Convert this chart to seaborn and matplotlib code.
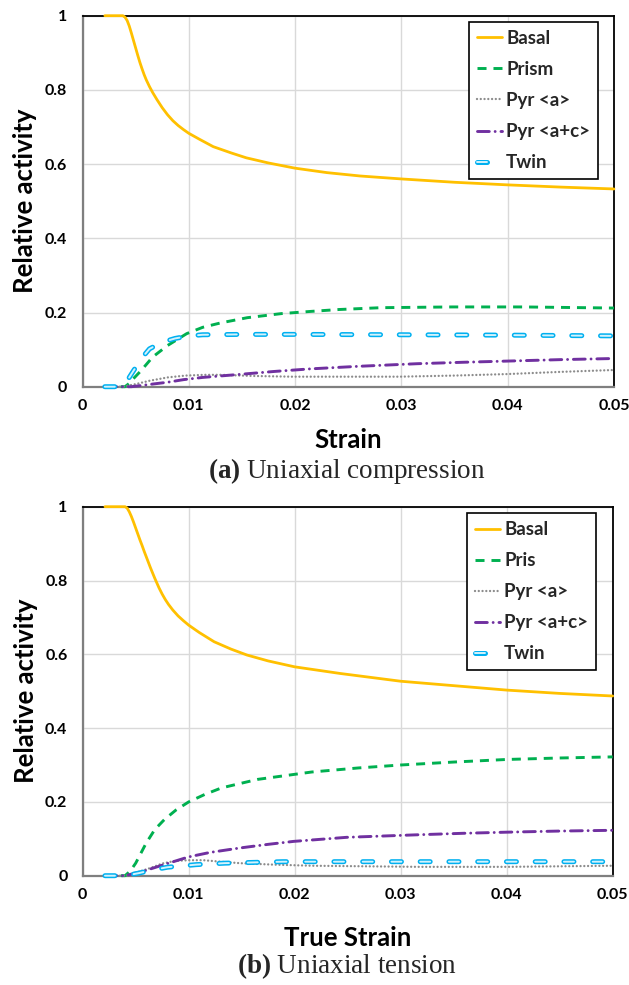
import numpy as np
import pandas as pd
import matplotlib
matplotlib.use("Agg")
import matplotlib.pyplot as plt
import matplotlib.patheffects as pe
import seaborn as sns

# ---------------- data ----------------
series_names_a = ["Basal", "Prism", "Pyr <a>", "Pyr <a+c>", "Twin"]
series_names_b = ["Basal", "Pris", "Pyr <a>", "Pyr <a+c>", "Twin"]

# (a) Uniaxial compression
a_basal_x = [0.0021, 0.0030, 0.0038, 0.0040, 0.0042, 0.0044, 0.0046, 0.0048, 0.0050, 0.0052,
             0.0054, 0.0056, 0.0058, 0.0060, 0.0063, 0.0066, 0.0070, 0.0075, 0.0080, 0.0085,
             0.0090, 0.0095, 0.0100, 0.0110, 0.0123, 0.0140, 0.0154, 0.0175, 0.0200, 0.0230,
             0.0261, 0.0300, 0.0350, 0.0400, 0.0450, 0.0500]
a_basal_y = [1.0, 1.0, 1.0, 0.996, 0.987, 0.972, 0.953, 0.933, 0.913, 0.893,
             0.874, 0.857, 0.841, 0.827, 0.809, 0.793, 0.774, 0.752, 0.733, 0.717,
             0.704, 0.693, 0.683, 0.667, 0.647, 0.630, 0.617, 0.603, 0.589, 0.577,
             0.568, 0.560, 0.551, 0.544, 0.538, 0.533]

a_prism_x = [0.0021, 0.0040, 0.0044, 0.0048, 0.0055, 0.0066, 0.0080, 0.0098, 0.0113, 0.0130,
             0.0155, 0.0187, 0.0215, 0.0241, 0.0281, 0.0348, 0.0415, 0.0500]
a_prism_y = [0.0, 0.0, 0.009, 0.022, 0.043, 0.080, 0.111, 0.143, 0.160, 0.172,
             0.186, 0.197, 0.203, 0.208, 0.213, 0.215, 0.215, 0.212]

a_pyra_x = [0.0021, 0.0038, 0.0050, 0.0063, 0.0080, 0.0097, 0.0115, 0.0130, 0.0160, 0.0197,
            0.0250, 0.0298, 0.0350, 0.0399, 0.0450, 0.0500]
a_pyra_y = [0.0, 0.0, 0.007, 0.016, 0.025, 0.030, 0.032, 0.032, 0.029, 0.027,
            0.027, 0.027, 0.030, 0.034, 0.040, 0.045]

a_pyrac_x = [0.0021, 0.0046, 0.0060, 0.0080, 0.0095, 0.0113, 0.0147, 0.0180, 0.0214, 0.0260,
             0.0315, 0.0360, 0.0399, 0.0450, 0.0500]
a_pyrac_y = [0.0, 0.0, 0.005, 0.012, 0.019, 0.025, 0.033, 0.041, 0.048, 0.055,
             0.062, 0.066, 0.069, 0.073, 0.076]

a_twin_x = [0.0021, 0.0037, 0.0042, 0.0048, 0.0056, 0.0063, 0.0075, 0.0087, 0.0100, 0.0113,
            0.0150, 0.0200, 0.0300, 0.0400, 0.0500]
a_twin_y = [0.0, 0.0, 0.016, 0.043, 0.078, 0.102, 0.120, 0.130, 0.137, 0.140,
            0.141, 0.141, 0.140, 0.139, 0.137]

# (b) Uniaxial tension
b_basal_x = [0.0021, 0.0030, 0.0040, 0.0042, 0.0044, 0.0046, 0.0048, 0.0050, 0.0052, 0.0054,
             0.0056, 0.0058, 0.0060, 0.0062, 0.0064, 0.0066, 0.0068, 0.0070, 0.0072, 0.0075,
             0.0078, 0.0081, 0.0085, 0.0090, 0.0095, 0.0100, 0.0110, 0.0124, 0.0140, 0.0155,
             0.0175, 0.0200, 0.0243, 0.0300, 0.0350, 0.0400, 0.0450, 0.0500]
b_basal_y = [1.0, 1.0, 1.0, 0.996, 0.986, 0.973, 0.958, 0.942, 0.926, 0.910,
             0.895, 0.879, 0.864, 0.849, 0.834, 0.820, 0.806, 0.793, 0.780, 0.763,
             0.748, 0.735, 0.720, 0.704, 0.691, 0.679, 0.659, 0.634, 0.614, 0.598,
             0.582, 0.566, 0.548, 0.527, 0.515, 0.503, 0.494, 0.487]

b_prism_x = [0.0021, 0.0040, 0.0045, 0.0050, 0.0060, 0.0068, 0.0077, 0.0088, 0.0100, 0.0115,
             0.0131, 0.0165, 0.0216, 0.0260, 0.0300, 0.0350, 0.0400, 0.0450, 0.0500]
b_prism_y = [0.0, 0.0, 0.013, 0.034, 0.089, 0.125, 0.152, 0.178, 0.200, 0.220,
             0.238, 0.261, 0.281, 0.292, 0.300, 0.308, 0.315, 0.319, 0.322]

b_pyra_x = [0.0021, 0.0040, 0.0050, 0.0064, 0.0075, 0.0087, 0.0100, 0.0114, 0.0130, 0.0148,
            0.0180, 0.0216, 0.0317, 0.0401, 0.0500]
b_pyra_y = [0.0, 0.0, 0.008, 0.021, 0.033, 0.040, 0.042, 0.042, 0.038, 0.034,
            0.030, 0.027, 0.024, 0.024, 0.027]

b_pyrac_x = [0.0021, 0.0040, 0.0057, 0.0080, 0.0100, 0.0120, 0.0148, 0.0175, 0.0199, 0.0249,
             0.0317, 0.0360, 0.0401, 0.0450, 0.0500]
b_pyrac_y = [0.0, 0.0, 0.012, 0.033, 0.051, 0.063, 0.075, 0.085, 0.093, 0.104,
             0.111, 0.115, 0.118, 0.121, 0.123]

b_twin_x = [0.0021, 0.0040, 0.0053, 0.0065, 0.0080, 0.0107, 0.0134, 0.0161, 0.0189, 0.0250,
            0.0300, 0.0400, 0.0500]
b_twin_y = [0.0, 0.0, 0.007, 0.015, 0.023, 0.030, 0.034, 0.036, 0.038, 0.038,
            0.038, 0.038, 0.038]

x_ticks = [0, 0.01, 0.02, 0.03, 0.04, 0.05]
x_tick_labels = ["0", "0.01", "0.02", "0.03", "0.04", "0.05"]
y_ticks = [0, 0.2, 0.4, 0.6, 0.8, 1.0]
y_tick_labels = ["0", "0.2", "0.4", "0.6", "0.8", "1"]

x_label_a = "Strain"
x_label_b = "True Strain"
y_label = "Relative activity"
caption_a = r"$\mathbf{(a)}$ Uniaxial compression"
caption_b = r"$\mathbf{(b)}$ Uniaxial tension"

# ---------------- style ----------------
sns.set_theme(style="whitegrid")
plt.rcParams.update({
    "font.family": ["Lato", "DejaVu Sans"],
    "font.weight": "bold",
    "lines.scale_dashes": False,
    "mathtext.fontset": "custom",
    "mathtext.rm": "Liberation Serif",
    "mathtext.bf": "Liberation Serif:bold",
    "figure.facecolor": "white",
    "axes.facecolor": "white",
})

line_styles = [
    dict(color="#FFC000", lw=2.0, ls="-"),
    dict(color="#00B050", lw=2.1, ls=(0, (6.5, 5.0))),
    dict(color="#8C8C8C", lw=1.7, ls=(0, (0.01, 2.7)), dash_capstyle="round"),
    dict(color="#7030A0", lw=2.1, ls=(0, (8.5, 4.2, 0.01, 4.2)), dash_capstyle="round"),
    dict(color="#D4F2FC", lw=1.4, ls=(0, (7.2, 13.5)), dash_capstyle="round",
         path_effects=[pe.Stroke(linewidth=3.6, foreground="#00B0F0"), pe.Normal()]),
]

fig = plt.figure(figsize=(6.29, 9.85), dpi=100)
ax1 = fig.add_axes([82.5 / 629, 1 - 386.7 / 985, 531.5 / 629, 371 / 985])
ax2 = fig.add_axes([82.7 / 629, 1 - 875.7 / 985, 530 / 629, 369 / 985])


def draw_panel(ax, names, xs, ys, xlabel, legend_anchor, xlabel_y):
    for name, x, y, st in zip(names, xs, ys, line_styles):
        st = dict(st)
        ls = st.pop("ls")
        sns.lineplot(x=x, y=y, ax=ax, label=name, linestyle=ls, errorbar=None,
                     clip_on=False, zorder=3, **st)
    ax.set_xlim(0, 0.05)
    ax.set_ylim(0, 1)
    ax.set_xticks(x_ticks, labels=x_tick_labels)
    ax.set_yticks(y_ticks, labels=y_tick_labels)
    ax.tick_params(axis="both", length=0, labelsize=11.5, colors="black")
    ax.tick_params(axis="x", pad=9)
    ax.tick_params(axis="y", pad=11)
    for lab in ax.get_xticklabels() + ax.get_yticklabels():
        lab.set_fontweight("bold")
    ax.grid(True, color="#D9D9D9", lw=1.0)
    ax.set_axisbelow(True)
    for side in ["left", "bottom"]:
        ax.spines[side].set_color("#7F7F7F")
        ax.spines[side].set_linewidth(1.6)
    for side in ["top", "right"]:
        ax.spines[side].set_color("black")
        ax.spines[side].set_linewidth(1.3)
    for s in ax.spines.values():
        s.set_zorder(2.5)
    ax.set_xlabel(xlabel, fontsize=18.5, fontweight="bold", color="black")
    ax.set_ylabel(y_label, fontsize=18.5, fontweight="bold", color="black")
    ax.xaxis.set_label_coords(0.5, xlabel_y)
    ax.yaxis.set_label_coords(-0.085, 0.5)
    leg = ax.legend(loc="upper right", bbox_to_anchor=legend_anchor, borderaxespad=0,
                    fontsize=13.5, frameon=True, fancybox=False, shadow=False,
                    labelspacing=0.75, handlelength=1.35, handletextpad=0.2,
                    borderpad=0.42)
    leg.get_frame().set_edgecolor("black")
    leg.get_frame().set_linewidth(1.2)
    leg.get_frame().set_alpha(1)
    for t in leg.get_texts():
        t.set_fontweight("bold")
    # twin legend sample: a single hollow capsule
    handles = leg.legend_handles
    handles[4].set_linestyle((0, (7.2, 40)))
    handles[4].set_dash_capstyle("round")


draw_panel(ax1, series_names_a,
           [a_basal_x, a_prism_x, a_pyra_x, a_pyrac_x, a_twin_x],
           [a_basal_y, a_prism_y, a_pyra_y, a_pyrac_y, a_twin_y],
           x_label_a, (0.970, 0.983), -0.112)
draw_panel(ax2, series_names_b,
           [b_basal_x, b_prism_x, b_pyra_x, b_pyrac_x, b_twin_x],
           [b_basal_y, b_prism_y, b_pyra_y, b_pyrac_y, b_twin_y],
           x_label_b, (0.9685, 0.982), -0.137)

fig.text(347 / 629, 1 - 471 / 985, caption_a, ha="center", va="center",
         fontsize=19.5, family="Liberation Serif", fontweight="normal")
fig.text(347 / 629, 1 - 966 / 985, caption_b, ha="center", va="center",
         fontsize=19.5, family="Liberation Serif", fontweight="normal")

fig.savefig("out.png", dpi=100)
